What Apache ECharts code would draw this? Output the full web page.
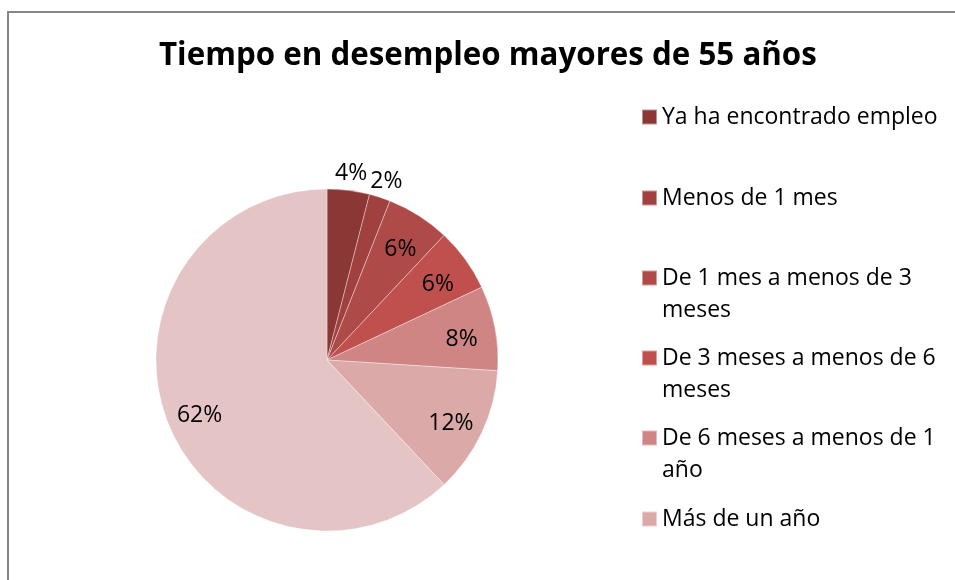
<!DOCTYPE html>
<html>
<head>
<meta charset="utf-8">
<script src="https://cdn.jsdelivr.net/npm/echarts@6/dist/echarts.min.js"></script>
<style>html,body{margin:0;padding:0;background:#fff}#c{width:955px;height:580px}</style>
</head>
<body>
<div id="c"></div>
<script>
var titleText = 'Tiempo en desempleo mayores de 55 años';
var categories = ['Ya ha encontrado empleo', 'Menos de 1 mes', 'De 1 mes a menos de 3 meses', 'De 3 meses a menos de 6 meses', 'De 6 meses a menos de 1 año', 'Más de un año', 'Resto'];
var legendLabels = ['Ya ha encontrado empleo', 'Menos de 1 mes', ' \nDe 1 mes a menos de 3\nmeses', ' \nDe 3 meses a menos de 6\nmeses', ' \nDe 6 meses a menos de 1\naño', 'Más de un año'];
var values = [4, 2, 6, 6, 8, 12, 62];
var colors = ['#8A3735', '#A0413F', '#AE4A47', '#C0504D', '#CE8584', '#DBA9A8', '#E4C4C4'];
var outsideLabelIdx = [0, 1];
var legendTops = [101, 182, 230, 310, 390, 503];

var FONT = '"Open Sans"';
var center = [327, 360];
var R = 171;

function mkData(transparent) {
  return values.map(function (v, i) {
    return { name: categories[i], value: v, itemStyle: { color: transparent ? 'rgba(0,0,0,0)' : colors[i] } };
  });
}

var legends = legendTops.map(function (t, i) {
  return {
    data: [categories[i]],
    left: 641, top: t, padding: 0,
    orient: 'vertical',
    icon: 'rect', itemWidth: 15, itemHeight: 15,
    selectedMode: false,
    formatter: function () { return legendLabels[i]; },
    textStyle: { fontFamily: FONT, fontSize: 23, color: '#000', lineHeight: 32 }
  };
});

var chart = echarts.init(document.getElementById('c'), null, { renderer: 'canvas' });
chart.setOption({
  animation: false,
  backgroundColor: '#fff',
  title: {
    text: titleText,
    left: 159, top: 41, padding: 0,
    textStyle: { fontFamily: FONT, fontWeight: 'bold', fontSize: 31.3, color: '#000' }
  },
  legend: legends,
  graphic: [{
    type: 'rect', silent: true,
    shape: { x: 8, y: 12, width: 1000, height: 1000 },
    style: { fill: 'none', stroke: '#868686', lineWidth: 2 }
  }],
  series: [
    {
      type: 'pie', center: center, radius: [0, R], startAngle: 90, clockwise: true,
      silent: true, label: { show: false }, labelLine: { show: false },
      itemStyle: { borderColor: 'rgba(255,255,255,0.45)', borderWidth: 0.8 },
      emphasis: { disabled: true },
      data: mkData(false)
    },
    {
      type: 'pie', center: center, radius: [97, R], startAngle: 90, clockwise: true,
      silent: true, labelLine: { show: false }, emphasis: { disabled: true },
      label: {
        show: true, position: 'inside', offset: [0, 5], fontFamily: FONT, fontSize: 23, color: '#000',
        formatter: function (p) { return outsideLabelIdx.indexOf(p.dataIndex) >= 0 ? '' : p.value + '%'; }
      },
      data: mkData(true)
    },
    {
      type: 'pie', center: center, radius: [R, 207], startAngle: 90, clockwise: true,
      silent: true, labelLine: { show: false }, emphasis: { disabled: true },
      label: {
        show: true, position: 'inside', offset: [0, 4], fontFamily: FONT, fontSize: 23, color: '#000',
        formatter: function (p) { return outsideLabelIdx.indexOf(p.dataIndex) >= 0 ? p.value + '%' : ''; }
      },
      data: mkData(true)
    }
  ]
});
</script>
</body>
</html>
